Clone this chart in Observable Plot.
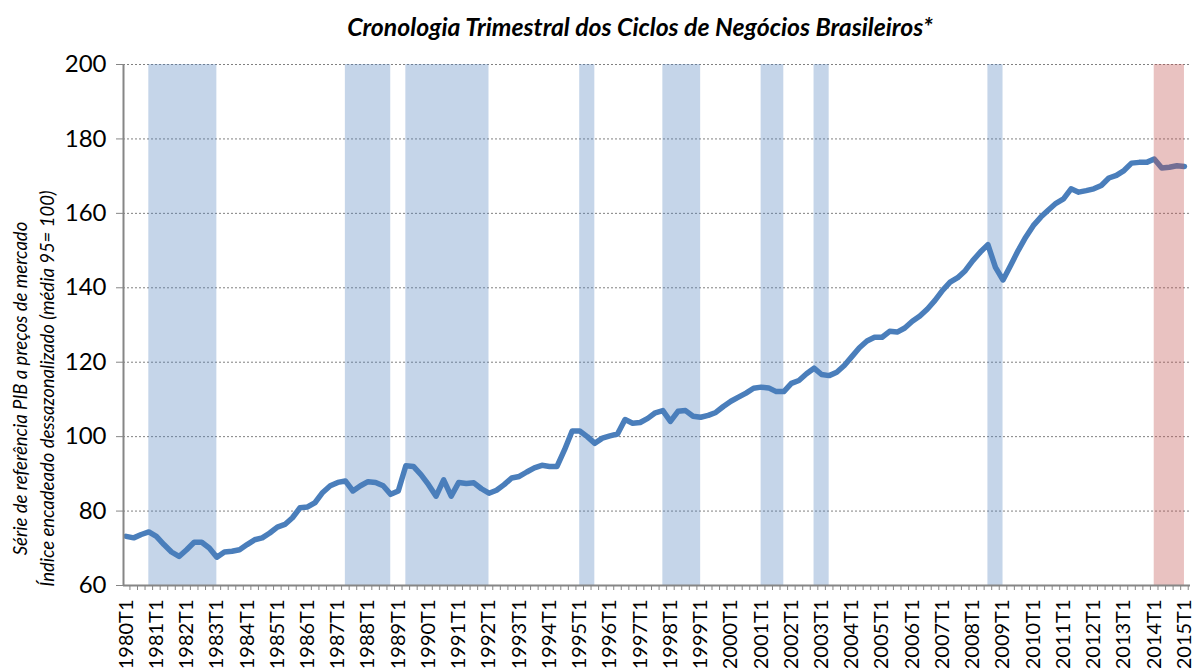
<!DOCTYPE html>
<html><head><meta charset="utf-8">
<script src="https://cdn.jsdelivr.net/npm/d3@7"></script>
<script src="https://cdn.jsdelivr.net/npm/@observablehq/plot@0.6"></script>
<style>
body{margin:0;background:#fff;font-family:Lato,sans-serif;}
#title{height:34px;padding-top:10px;line-height:34px;font-weight:bold;font-style:italic;font-size:24.8px;text-align:center;padding-left:86px;width:1108px;color:#000;white-space:nowrap;}
#chart svg{display:block;}
</style></head><body>
<div id="title"></div>
<div id="chart"></div>
<script>
const title = "Cronologia Trimestral dos Ciclos de Negócios Brasileiros*";
const yTitle = ["Série de referência PIB a preços de mercado", "Índice encadeado dessazonalizado (média 95= 100)"];
const startYear = 1980;
// Quarterly GDP index, 1980T1 .. 2015T1
const gdp = [
  73.2, 72.8, 73.7, 74.4, 73.2, 71.0, 69.0, 67.8, 69.6, 71.6,
  71.6, 70.1, 67.6, 69.0, 69.2, 69.6, 71.0, 72.3, 72.8, 74.1,
  75.7, 76.4, 78.2, 80.9, 81.1, 82.3, 85.0, 86.8, 87.7, 88.1,
  85.4, 86.8, 87.9, 87.7, 86.8, 84.5, 85.4, 92.2, 92.0, 89.8,
  87.1, 84.0, 88.4, 84.0, 87.7, 87.4, 87.6, 86.0, 84.8, 85.6,
  87.1, 88.9, 89.3, 90.5, 91.6, 92.3, 92.0, 92.0, 96.5, 101.5,
  101.5, 100.0, 98.2, 99.6, 100.2, 100.7, 104.6, 103.6, 103.8, 104.9,
  106.4, 107.0, 104.1, 106.8, 107.0, 105.5, 105.2, 105.7, 106.5, 108.1,
  109.5, 110.6, 111.7, 113.0, 113.3, 113.1, 112.1, 112.1, 114.3, 115.1,
  116.9, 118.4, 116.7, 116.4, 117.3, 119.1, 121.5, 123.9, 125.7, 126.7,
  126.7, 128.3, 128.1, 129.2, 131.0, 132.4, 134.3, 136.6, 139.3, 141.5,
  142.7, 144.6, 147.3, 149.6, 151.6, 145.5, 142.1, 146.0, 150.0, 153.6,
  156.7, 159.0, 160.9, 162.7, 163.9, 166.6, 165.7, 166.1, 166.6, 167.5,
  169.5, 170.2, 171.5, 173.5, 173.7, 173.7, 174.6, 172.2, 172.4, 172.8,
  172.6
];
const yearLabels = ["1980T1","1981T1","1982T1","1983T1","1984T1","1985T1","1986T1","1987T1","1988T1","1989T1",
  "1990T1","1991T1","1992T1","1993T1","1994T1","1995T1","1996T1","1997T1","1998T1","1999T1",
  "2000T1","2001T1","2002T1","2003T1","2004T1","2005T1","2006T1","2007T1","2008T1","2009T1",
  "2010T1","2011T1","2012T1","2013T1","2014T1","2015T1"];
const recessionPeaks   = ["1980T4","1987T2","1989T2","1995T1","1997T4","2001T1","2002T4","2008T3"];
const recessionTroughs = ["1983T1","1988T4","1992T1","1995T3","1999T1","2001T4","2003T2","2009T1"];
const currentPeak = ["2014T1"];
const currentEnd  = ["2015T1"];
const yTicks = [60, 80, 100, 120, 140, 160, 180, 200];
const yDomain = [60, 200];

const quarters = gdp.map((_, i) => `${startYear + Math.floor(i / 4)}T${i % 4 + 1}`);
const idx = q => quarters.indexOf(q);
const series = gdp.map((v, i) => ({i, v}));
const recs = recessionPeaks.map((p, k) => ({a: idx(p), b: idx(recessionTroughs[k])}));
const cur = currentPeak.map((p, k) => ({a: idx(p), b: idx(currentEnd[k])}));
const yearIdx = yearLabels.map(idx);
const boundaries = quarters.map((_, i) => i + 0.5);

document.getElementById("title").textContent = title;

const chart = Plot.plot({
  width: 1194, height: 624,
  marginLeft: 123, marginRight: 4, marginTop: 20, marginBottom: 83,
  style: {fontFamily: "Lato, sans-serif", color: "#000", background: "#fff"},
  x: {domain: [-0.35, 140.8], label: null},
  y: {domain: yDomain, label: null},
  marks: [
    Plot.gridY(yTicks.filter(t => t > yDomain[0]), {stroke: "#808080", strokeOpacity: 1, strokeDasharray: "2,2"}),
    Plot.rect(recs, {x1: "a", x2: "b", y1: d => yDomain[0], y2: d => yDomain[1], fill: "#4F81BD", fillOpacity: 0.33}),
    Plot.line(series, {x: "i", y: "v", stroke: "#000", strokeOpacity: 0.5, strokeWidth: 5.5, dx: 3, dy: 4, ariaLabel: "shadow"}),
    Plot.line(series, {x: "i", y: "v", stroke: "#4A7EBB", strokeWidth: 5.5, strokeLinejoin: "round"}),
    Plot.rect(cur, {x1: "a", x2: "b", y1: d => yDomain[0], y2: d => yDomain[1], fill: "#C0504D", fillOpacity: 0.35}),
    Plot.ruleX([-0.35], {stroke: "#868686", strokeWidth: 2}),
    Plot.ruleY([yDomain[0]], {stroke: "#868686", strokeWidth: 2}),
    Plot.axisY(yTicks, {tickSize: 7, tickPadding: 10, fontSize: 24, stroke: "#868686", fill: "#000", label: null}),
    Plot.axisX(boundaries, {tickSize: 5, tickFormat: () => "", stroke: "#868686", label: null}),
    Plot.axisX(yearIdx, {tickSize: 0, tickRotate: -90, tickPadding: 14, fontSize: 20, fill: "#000", tickFormat: i => quarters[i], label: null}),
    Plot.text([yTitle.join("\n")], {text: d => d, frameAnchor: "left", textAnchor: "middle", rotate: -90, dx: -91.5, dy: 63.5, fontSize: 18.5, fontStyle: "italic", lineHeight: 1.48, fill: "#000"})
  ]
});
document.getElementById("chart").appendChild(chart);

// soft shadow for the line
const svg = d3.select(chart);
svg.insert("defs", ":first-child").html('<filter id="lineShadow" x="-5%" y="-5%" width="110%" height="110%"><feGaussianBlur stdDeviation="1.6"/></filter>');
svg.select('g[aria-label="shadow"]').attr("filter", "url(#lineShadow)");
</script>
</body></html>
